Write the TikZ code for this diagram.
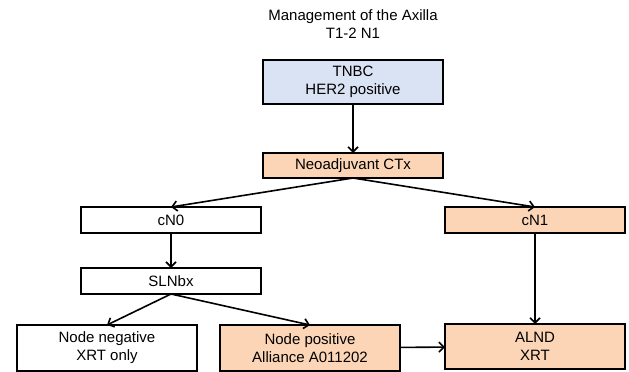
\documentclass[tikz,border=0pt]{standalone}
\usepackage{fontspec}
\setmainfont{Liberation Sans}
\usepackage{xcolor}
\usepackage{tikz}
\usetikzlibrary{arrows.meta,positioning}
\definecolor{axblue}{HTML}{DAE3F3}
\definecolor{axpeach}{HTML}{FBD5B5}
\tikzset{
  box/.style={rectangle, draw=black, line width=2pt, fill=white,
              align=center, font=\fontsize{15}{18}\selectfont,
              minimum width=180pt, inner sep=2pt, outer sep=0pt},
  bluebox/.style={box, fill=axblue},
  peachbox/.style={box, fill=axpeach},
  ttl/.style={align=center, font=\fontsize{15}{18}\selectfont},
  ar/.style={-{Straight Barb[length=5pt,width=10pt]}, line width=1.6pt},
}
\begin{document}
\begin{tikzpicture}[x=1pt,y=1pt]
\useasboundingbox (0,0) rectangle (629,-372);
% --- title and top of tree
\node[ttl] (title) at (353,-24) {Management of the Axilla\\T1-2 N1};
\node[bluebox,minimum height=44pt] (tnbc) at (353,-82) {TNBC\\HER2 positive};
\node[peachbox,minimum height=25pt,below=49pt of tnbc] (neo) {Neoadjuvant CTx};
% --- clinical node status
\node[box,minimum height=26pt,below=29pt of neo,xshift=-182pt] (cn0) {cN0};
\node[peachbox,minimum height=26pt,below=29pt of neo,xshift=182pt] (cn1) {cN1};
\node[box,minimum height=26pt,below=35pt of cn0] (slnbx) {SLNbx};
% --- outcomes
\node[box,minimum height=46pt,below=31pt of slnbx,xshift=-64pt] (nneg) {Node negative\\XRT only};
\node[peachbox,minimum height=46pt,below=31pt of slnbx,xshift=139pt] (npos) {Node positive\\Alliance A011202};
\node[peachbox,minimum height=45pt,below=91pt of cn1] (alnd) {ALND\\XRT};
\draw[ar] (tnbc)--(neo);
\draw[ar] (neo.south)--(cn0.north); \draw[ar] (neo.south)--(cn1.north);
\draw[ar] (cn0)--(slnbx); \draw[ar] (cn1)--(alnd);
\draw[ar] (slnbx.south)--(nneg.north); \draw[ar] (slnbx.south)--(npos.north);
\draw[ar] (npos)--(alnd);
\end{tikzpicture}
\end{document}
